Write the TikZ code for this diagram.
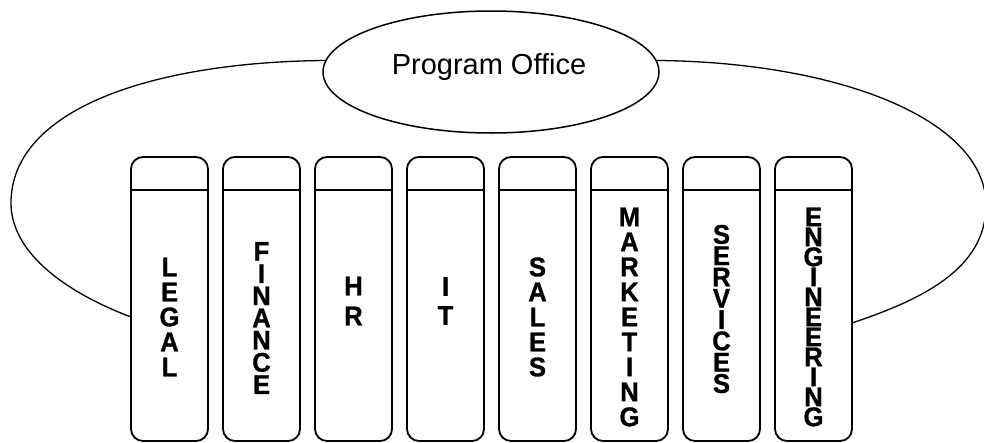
\documentclass[tikz,border=0pt]{standalone}
\usepackage{fontspec}
\setmainfont{Liberation Sans}
\newfontfamily\spinefont{Liberation Sans}[FakeStretch=0.95,FakeBold=1]
\usetikzlibrary{shapes.geometric}
\begin{document}
\begin{tikzpicture}[x=1pt,y=-1pt,
  spine/.style={draw, line width=1.8pt, rounded corners=12pt, minimum width=77pt, minimum height=284pt, inner sep=0pt, outer sep=0pt},
  divider/.style={line width=1.8pt},
  spinetext/.style={font={\spinefont\bfseries\fontsize{27pt}{#1}\selectfont}, align=center, inner sep=0pt},
  orbit/.style={line width=1.3pt}]
\useasboundingbox (0,0) rectangle (984,442);
\node[draw, ellipse, line width=1.5pt, minimum width=336pt, minimum height=122pt, inner sep=0pt, outer sep=0pt] (po) at (491,72) {};
\node[font=\fontsize{29pt}{34pt}\selectfont, inner sep=0pt, anchor=base] (pot) at (489,74) {Program Office};
\foreach \i in {1,...,8}{
  \node[spine] (b\i) at ({169.5+92*(\i-1)},299) {};
  \draw[divider] ([yshift=-33pt]b\i.north west) -- ([yshift=-33pt]b\i.north east);
}
\node[spinetext=25pt] (t1) at (169.5,317) {L\\E\\G\\A\\L};
\node[spinetext=22.2pt] (t2) at (261.5,318) {F\\I\\N\\A\\N\\C\\E};
\node[spinetext=30pt] (t3) at (353.5,301) {H\\R};
\node[spinetext=29pt] (t4) at (445.5,301) {I\\T};
\node[spinetext=25pt] (t5) at (537.5,317) {S\\A\\L\\E\\S};
\node[spinetext=25pt] (t6) at (629.5,317) {M\\A\\R\\K\\E\\T\\I\\N\\G};
\node[spinetext=21.3pt] (t7) at (721.5,309) {S\\E\\R\\V\\I\\C\\E\\S};
\node[spinetext=20pt] (t8) at (813.5,317) {E\\N\\G\\I\\N\\E\\E\\R\\I\\N\\G};
\draw[orbit] (po.176) .. controls (150,62) and (11,110) .. (11,203)
  .. controls (11,250) and (60,290) .. (b1.west |- 0,317);
\draw[orbit] (po.4) .. controls (840,62) and (986,120) .. (986,205)
  .. controls (986,270) and (920,300) .. (b8.east |- 0,323);
\end{tikzpicture}
\end{document}
